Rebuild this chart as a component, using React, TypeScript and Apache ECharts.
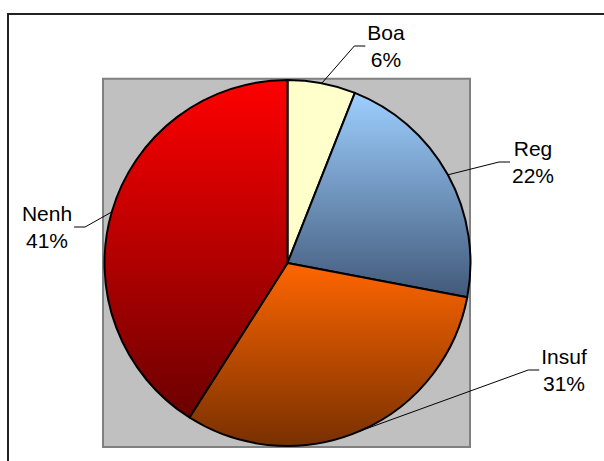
import React, { useEffect, useRef } from 'react';
import * as echarts from 'echarts';

// ---- data ----
const categories: string[] = ['Boa', 'Reg', 'Insuf', 'Nenh'];
const values: number[] = [6, 22, 31, 41];

// ---- layout / style ----
const CENTER: [number, number] = [287.5, 263];
const RADIUS = 183;
const LABEL_POS: [number, number][] = [
  [386, 46],
  [533, 162],
  [564, 370],
  [47, 227],
];
const GRADIENTS: [string, string][] = [
  ['#FFFFCC', '#FFFFCC'],
  ['#9DCFFF', '#42597A'],
  ['#FF6600', '#783000'],
  ['#FF0000', '#6C0000'],
];

export default function App() {
  const ref = useRef<HTMLDivElement>(null);

  useEffect(() => {
    document.body.style.margin = '0';
    if (!ref.current) return;
    const chart = echarts.init(ref.current, undefined, { renderer: 'svg' });
    const total = values.reduce((a, b) => a + b, 0);

    const data = categories.map((name, i) => ({
      name,
      value: values[i],
      itemStyle: {
        color: new echarts.graphic.LinearGradient(0, 0, 0, 1, [
          { offset: 0, color: GRADIENTS[i][0] },
          { offset: 1, color: GRADIENTS[i][1] },
        ]),
      },
    }));

    chart.setOption({
      animation: false,
      backgroundColor: '#FFFFFF',
      graphic: [
        {
          type: 'rect',
          z: -10,
          silent: true,
          shape: { x: 8, y: 14, width: 800, height: 800 },
          style: { fill: 'none', stroke: '#222222', lineWidth: 2 },
        },
        {
          type: 'rect',
          z: -5,
          silent: true,
          shape: { x: 103, y: 78.7, width: 367, height: 368.3 },
          style: { fill: '#C0C0C0', stroke: '#808080', lineWidth: 2 },
        },
      ],
      series: [
        {
          type: 'pie',
          center: CENTER,
          radius: RADIUS,
          startAngle: 90,
          clockwise: true,
          silent: true,
          emphasis: { disabled: true },
          itemStyle: { borderColor: '#000000', borderWidth: 2 },
          label: {
            show: true,
            position: 'outside',
            formatter: '{b}\n{c}%',
            fontFamily: '"Liberation Sans", Arial, sans-serif',
            fontSize: 21,
            lineHeight: 27,
            color: '#000000',
            align: 'center',
          },
          labelLine: {
            show: true,
            length: 20,
            length2: 10,
            lineStyle: { color: '#000000', width: 1 },
          },
          labelLayout: (params: any) => {
            const i = params.dataIndex;
            const [lx, ly] = LABEL_POS[i];
            const w = params.labelRect.width;
            let acc = 0;
            for (let j = 0; j < i; j++) acc += values[j];
            const mid = ((acc + values[i] / 2) / total) * Math.PI * 2;
            const ax = CENTER[0] + RADIUS * Math.sin(mid);
            const ay = CENTER[1] - RADIUS * Math.cos(mid);
            const right = lx > CENTER[0];
            const ex = right ? lx - w / 2 - 2 : lx + w / 2 + 2;
            const tx = right ? ex - 11 : ex + 11;
            return {
              x: lx,
              y: ly,
              align: 'center',
              verticalAlign: 'middle',
              labelLinePoints: [
                [ax, ay],
                [tx, ly],
                [ex, ly],
              ],
            };
          },
          data,
        },
      ],
    });

    return () => {
      chart.dispose();
    };
  }, []);

  return (
    <div
      ref={ref}
      style={{ position: 'absolute', left: 0, top: 0, width: 604, height: 461 }}
    />
  );
}
